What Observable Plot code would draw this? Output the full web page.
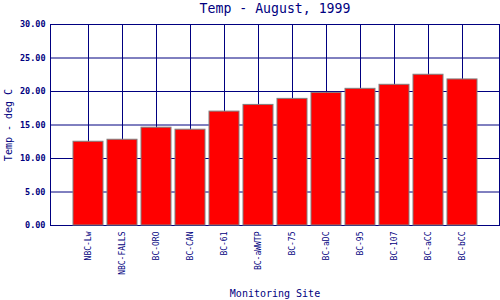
<!DOCTYPE html>
<html>
<head>
<meta charset="utf-8">
<script src="https://cdn.jsdelivr.net/npm/d3@7"></script>
<script src="https://cdn.jsdelivr.net/npm/@observablehq/plot@0.6"></script>
<style>
  html, body { margin: 0; padding: 0; background: #fff; }
</style>
</head>
<body>
<div id="chart"></div>
<script>
const sites = ["NBC-Lw", "NBC-FALLS", "BC-ORO", "BC-CAN", "BC-61", "BC-aWWTP", "BC-75", "BC-aDC", "BC-95", "BC-107", "BC-aCC", "BC-bCC"];
const temps = [12.5, 12.8, 14.6, 14.3, 17.0, 18.0, 18.9, 19.8, 20.4, 21.0, 22.5, 21.8];
const yTicks = [0, 5, 10, 15, 20, 25, 30];
const title = "Temp - August, 1999";
const xLabel = "Monitoring Site";
const yLabel = "Temp - deg C";

const data = sites.map((s, i) => ({site: s, temp: temps[i]}));
const navy = "#000080";

const chart = Plot.plot({
  width: 500,
  height: 300,
  marginLeft: 50,
  marginRight: 1,
  marginTop: 24,
  marginBottom: 75,
  style: {fontFamily: "DejaVu Sans Mono", color: navy, background: "#fff"},
  x: {type: "band", domain: sites, paddingInner: 0, paddingOuter: 0.5, label: null, axis: null},
  y: {domain: [0, 30], label: null, axis: null},
  marks: [
    Plot.ruleX(sites, {x: d => d, stroke: navy, strokeWidth: 1}),
    Plot.ruleY(yTicks, {stroke: navy, strokeWidth: 1}),
    Plot.frame({stroke: navy, strokeWidth: 1}),
    Plot.barY(data, {x: "site", y: "temp", fill: "#ff0000", stroke: "#808080", strokeWidth: 1, insetLeft: 2, insetRight: 2}),
    Plot.axisY(yTicks, {tickFormat: d3.format(".2f"), tickSize: 0, tickPadding: 5, fontSize: 8.5, fontWeight: "bold", fill: navy, label: null}),
    Plot.axisX(sites, {tickSize: 0, tickPadding: 6, tickRotate: -90, textAnchor: "end", fontSize: 8, fill: navy, label: null}),
    Plot.text([title], {frameAnchor: "top", textAnchor: "middle", lineAnchor: "middle", dy: -16, fontSize: 13.2, fill: navy}),
    Plot.text([xLabel], {frameAnchor: "bottom", textAnchor: "middle", lineAnchor: "middle", dy: 68, fontSize: 10, fill: navy}),
    Plot.text([yLabel], {frameAnchor: "left", textAnchor: "middle", lineAnchor: "middle", dx: -42, rotate: -90, fontSize: 10, fill: navy})
  ]
});
document.getElementById("chart").appendChild(chart);
</script>
</body>
</html>
